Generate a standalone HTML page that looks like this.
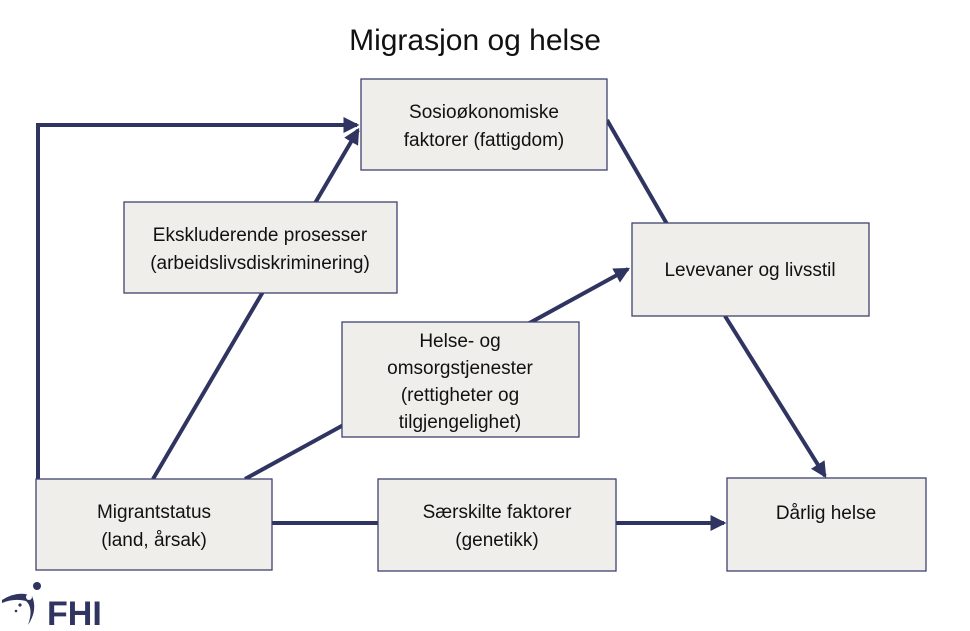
<!DOCTYPE html>
<html><head><meta charset="utf-8"><style>
html,body{margin:0;padding:0;background:#fff;}
svg{display:block;}
text{font-family:"Liberation Sans",sans-serif;fill:#111;}
</style></head><body>
<svg width="970" height="631" viewBox="0 0 970 631" xmlns="http://www.w3.org/2000/svg">
<defs>
<marker id="a" markerWidth="4" markerHeight="4" refX="3.4" refY="2" orient="auto" markerUnits="strokeWidth">
<path d="M0,0 L4,2 L0,4 z" fill="#2f3460"/>
</marker>
</defs>
<text x="475" y="50" font-size="30" text-anchor="middle">Migrasjon og helse</text>
<g stroke="#2f3460" stroke-width="4" fill="none">
<polyline points="38,479 38,125 357,125" marker-end="url(#a)"/>
<line x1="153" y1="479" x2="358" y2="130" marker-end="url(#a)"/>
<line x1="245" y1="479" x2="628" y2="269" marker-end="url(#a)"/>
<line x1="272" y1="523" x2="724" y2="523" marker-end="url(#a)"/>
<line x1="607" y1="120" x2="667" y2="224"/>
<line x1="725" y1="316" x2="825" y2="476" marker-end="url(#a)"/>
</g>
<g fill="#efeeea" stroke="#3d4270" stroke-width="1.3">
<rect x="361" y="79" width="246" height="91"/>
<rect x="124" y="202" width="273" height="91"/>
<rect x="632" y="223" width="237" height="93"/>
<rect x="342" y="322" width="237" height="115"/>
<rect x="36" y="479" width="236" height="91"/>
<rect x="378" y="479" width="238" height="92"/>
<rect x="727" y="478" width="199" height="93"/>
</g>
<g font-size="19" text-anchor="middle">
<text x="484" y="118">Sosioøkonomiske</text>
<text x="484" y="146">faktorer (fattigdom)</text>
<text x="260" y="241">Ekskluderende prosesser</text>
<text x="260" y="269">(arbeidslivsdiskriminering)</text>
<text x="750" y="276">Levevaner og livsstil</text>
<text x="460" y="347">Helse- og</text>
<text x="460" y="374">omsorgstjenester</text>
<text x="460" y="401">(rettigheter og</text>
<text x="460" y="428">tilgjengelighet)</text>
<text x="154" y="518">Migrantstatus</text>
<text x="154" y="546">(land, årsak)</text>
<text x="497" y="518">Særskilte faktorer</text>
<text x="497" y="546">(genetikk)</text>
<text x="826" y="519">Dårlig helse</text>
</g>
<g fill="#2f3460">
<path d="M2,600 Q18,590 32,596 Q38,610 28,625 Q34,608 26,601 Q14,598 2,603 z"/>
<circle cx="37" cy="586" r="4"/>
<circle cx="29" cy="597" r="3" fill="#fff"/>
<circle cx="20" cy="605" r="1.6"/>
<circle cx="16" cy="611" r="1.3"/>
<text x="47" y="625" font-size="34" font-weight="bold" style="fill:#2f3460">FHI</text>
</g>
</svg>
</body></html>
